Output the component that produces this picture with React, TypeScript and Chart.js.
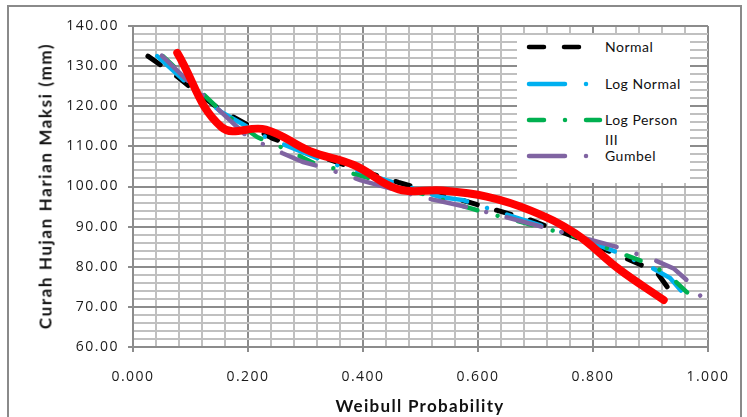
import React, { useEffect, useRef } from 'react';
import { Chart, registerables } from 'chart.js';
Chart.register(...registerables);

// Observed (Weibull plotting position) data
const observedX = [0.077, 0.154, 0.231, 0.308, 0.385, 0.462, 0.538, 0.615, 0.692, 0.769, 0.846, 0.923];
const observedY = [133.3, 114.8, 114.2, 108.8, 105.3, 99.3, 99.0, 97.5, 94.0, 88.3, 79.3, 71.7];

// Fitted distributions
const normalX = [0.026, 0.077, 0.103, 0.155, 0.243, 0.308, 0.385, 0.462, 0.538, 0.615, 0.692, 0.769, 0.846, 0.91, 0.93];
const normalY = [132.5, 127.4, 124.4, 118.8, 112.0, 108.4, 104.5, 101.0, 98.0, 94.8, 91.6, 87.4, 82.8, 78.8, 74.8];

const logNormalX = [0.042, 0.1, 0.154, 0.231, 0.337, 0.47, 0.534, 0.574, 0.642, 0.77, 0.842, 0.904, 0.934, 0.96];
const logNormalY = [132.5, 125.0, 118.5, 112.3, 106.1, 100.3, 97.4, 96.6, 93.4, 87.5, 83.6, 79.6, 77.2, 72.9];

const logPearsonX = [0.052, 0.1, 0.151, 0.174, 0.216, 0.261, 0.312, 0.45, 0.586, 0.616, 0.65, 0.77, 0.847, 0.904, 0.937, 0.963, 0.977];
const logPearsonY = [132.5, 126.0, 119.1, 116.6, 112.3, 109.6, 106.0, 100.5, 94.6, 93.4, 92.1, 87.5, 83.4, 80.4, 77.2, 73.7, 71.7];

const gumbelX = [0.05, 0.094, 0.2, 0.23, 0.26, 0.296, 0.33, 0.395, 0.5, 0.565, 0.635, 0.77, 0.842, 0.908, 0.94, 0.967, 0.99];
const gumbelY = [132.6, 126.5, 112.3, 110.3, 108.3, 106.1, 104.8, 101.6, 97.4, 95.4, 92.9, 87.7, 84.9, 81.6, 79.6, 76.2, 72.2];

const seriesLabels = ['Normal', 'Log Normal', 'Log Person III', 'Gumbel'];
const seriesColors = ['#000000', '#00B0F0', '#00B050', '#8064A2'];
const seriesDashes = [[15, 20], [36, 21, 0.01, 21], [15, 21, 0.01, 21], [36, 21, 0.01, 21]];
const legendSampleEnds = [54, 62, 75, 62];

const xTitle = 'Weibull Probability';
const yTitle = 'Curah Hujan Harian Maksi (mm)';

const MAJOR = '#8c8c8c';
const MINOR = '#c0c0c0';

const isMajor = (v: number, step: number) => Math.abs(v / step - Math.round(v / step)) < 1e-6;
const pts = (xs: number[], ys: number[]) => xs.map((x, i) => ({ x, y: ys[i] }));

const spacingPlugin = {
  id: 'letterSpacing',
  beforeLayout(chart: any) { chart.ctx.letterSpacing = '1.5px'; },
  beforeDraw(chart: any) { chart.ctx.letterSpacing = '1.5px'; },
};

export default function App() {
  const ref = useRef<HTMLCanvasElement | null>(null);
  useEffect(() => {
    if (!ref.current) return;
    const fitted = [
      [normalX, normalY],
      [logNormalX, logNormalY],
      [logPearsonX, logPearsonY],
      [gumbelX, gumbelY],
    ];
    const orders = [4, 3, 2, 1];
    const datasets: any[] = fitted.map(([xs, ys], i) => ({
      label: seriesLabels[i],
      data: pts(xs, ys),
      borderColor: seriesColors[i],
      borderWidth: i === 0 ? 5 : 4.5,
      borderDash: seriesDashes[i],
      borderCapStyle: 'round',
      pointRadius: 0,
      tension: 0,
      fill: false,
      order: orders[i],
    }));
    datasets.push({
      label: 'Data',
      data: pts(observedX, observedY),
      borderColor: '#FF0000',
      borderWidth: 8,
      borderCapStyle: 'round',
      borderJoinStyle: 'round',
      pointRadius: 0,
      tension: 0.4,
      fill: false,
      order: 0,
    });
    const chart = new Chart(ref.current, {
      type: 'line',
      data: { datasets },
      plugins: [spacingPlugin],
      options: {
        animation: false,
        responsive: false,
        devicePixelRatio: 1,
        layout: { padding: { top: 26, right: 39, left: 0, bottom: 0 } },
        plugins: { legend: { display: false }, tooltip: { enabled: false }, title: { display: false } },
        scales: {
          x: {
            type: 'linear',
            min: 0,
            max: 1,
            ticks: {
              stepSize: 0.04,
              autoSkip: false,
              maxRotation: 0,
              padding: 17,
              color: '#1a1a1a',
              font: { family: 'Open Sans', size: 14 },
              callback: (v: any) => (isMajor(Number(v), 0.2) ? Number(v).toFixed(3) : ''),
            },
            grid: {
              lineWidth: 2,
              tickLength: 5,
              color: (c: any) => (c.tick && isMajor(c.tick.value, 0.2) ? MAJOR : MINOR),
              tickColor: (c: any) => (c.tick && isMajor(c.tick.value, 0.2) ? MAJOR : 'rgba(0,0,0,0)'),
            },
            border: { color: MAJOR, width: 2 },
            afterFit: (s: any) => { s.height = 70; },
          },
          y: {
            type: 'linear',
            min: 60,
            max: 140,
            ticks: {
              stepSize: 2,
              autoSkip: false,
              padding: 9,
              color: '#1a1a1a',
              font: { family: 'Open Sans', size: 14 },
              callback: (v: any) => (isMajor(Number(v), 10) ? Number(v).toFixed(2) : ''),
            },
            grid: {
              lineWidth: 2,
              tickLength: 5,
              color: (c: any) => (c.tick && isMajor(c.tick.value, 10) ? MAJOR : MINOR),
              tickColor: (c: any) => (c.tick && isMajor(c.tick.value, 10) ? MAJOR : 'rgba(0,0,0,0)'),
            },
            border: { color: MAJOR, width: 2 },
            afterFit: (s: any) => { s.width = 133; },
          },
        },
      } as any,
    });
    return () => chart.destroy();
  }, []);

  const legendRows = [47, 84, 120, 156];
  return (
    <div style={{ position: 'fixed', left: 0, top: 0, width: 747, height: 417, background: '#fff', overflow: 'hidden' }}>
      <div style={{ position: 'absolute', left: 7, top: 5, width: 735, height: 440, border: '2px solid #8a8a8a', boxSizing: 'border-box' }} />
      <canvas ref={ref} width={747} height={417} style={{ position: 'absolute', left: 0, top: 0 }} />
      <div style={{ position: 'absolute', left: 45, top: 186, transform: 'translate(-50%, -50%) rotate(-90deg)', whiteSpace: 'nowrap', font: 'bold 17px Lato', letterSpacing: '1.6px', color: '#111' }}>{yTitle}</div>
      <div style={{ position: 'absolute', left: 420, top: 405, transform: 'translate(-50%, -50%)', whiteSpace: 'nowrap', font: 'bold 17px Lato', letterSpacing: '1.3px', color: '#111' }}>{xTitle}</div>
      <div style={{ position: 'absolute', left: 517, top: 35, width: 173, height: 148, background: '#fff' }}>
        {seriesLabels.map((lab, i) => (
          <React.Fragment key={lab}>
            <svg width={80} height={12} style={{ position: 'absolute', left: 8, top: legendRows[i] - 35 - 6 }}>
              <line x1={4} y1={6} x2={legendSampleEnds[i]} y2={6} stroke={seriesColors[i]} strokeWidth={4.5} strokeLinecap="round"
                strokeDasharray={seriesDashes[i].join(' ')} />
            </svg>
            <div style={{ position: 'absolute', left: 88, top: legendRows[i] - 35 - 10, font: '14px Lato', letterSpacing: '0.5px', color: '#111', lineHeight: '20px', width: 84 }}>
              {lab === 'Log Person III' ? (<><span style={{ display: 'block' }}>Log Person</span><span style={{ display: 'block' }}>III</span></>) : lab}
            </div>
          </React.Fragment>
        ))}
      </div>
    </div>
  );
}
